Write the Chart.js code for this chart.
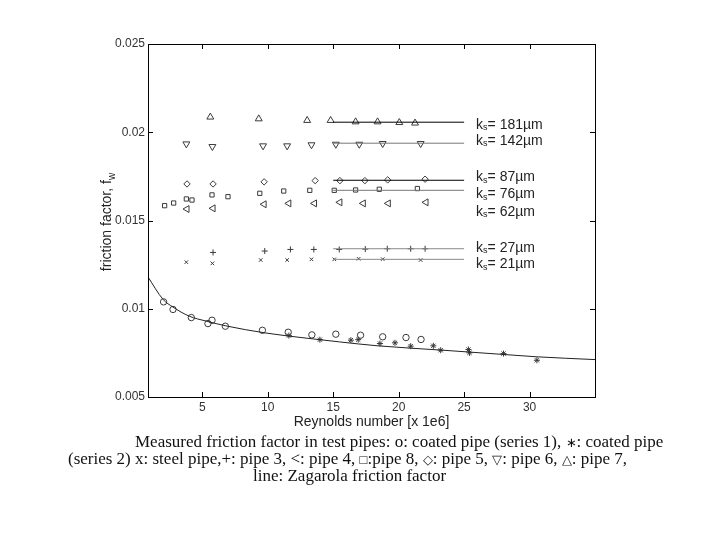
<!DOCTYPE html>
<html>
<head>
<meta charset="utf-8">
<script src="https://cdn.jsdelivr.net/npm/chart.js@4.4.1/dist/chart.umd.min.js"></script>
<style>
  body { margin: 0; background: #fff; }
  #wrap { position: relative; width: 720px; height: 540px; }
  #frictionChart { display: block; }
  .cap {
    position: absolute;
    white-space: nowrap;
    font-family: "Liberation Serif", "Times New Roman", serif;
    font-size: 17px;
    line-height: 17px;
    color: #111;
  }
  .sym { font-size: 13px; }
</style>
</head>
<body>
<div id="wrap">
  <canvas id="frictionChart" width="720" height="540"></canvas>
  <div class="cap" style="left:135px; top:433px">Measured friction factor in test pipes: o: coated pipe (series 1), <span class="sym">∗</span>: coated pipe</div>
  <div class="cap" style="left:68px; top:450px">(series 2) x: steel pipe,+: pipe 3, &lt;: pipe 4, <span class="sym">□</span>:pipe 8, <span class="sym">◇</span>: pipe 5, <span class="sym">▽</span>: pipe 6, <span class="sym">△</span>: pipe 7,</div>
  <div class="cap" style="left:253px; top:467px">line: Zagarola friction factor</div>
</div>
<script>
  // Axis ticks
  const xTicks = [5, 10, 15, 20, 25, 30];
  const yTicks = [0.005, 0.01, 0.015, 0.02, 0.025];
  const yTickLabels = ['0.005', '0.01', '0.015', '0.02', '0.025'];

  // Measured friction factor, Reynolds number in units of 1e6
  const pipe7X = [5.61, 9.31, 13.01, 14.80, 16.71, 18.39, 20.05, 21.25];
  const pipe7Y = [0.02086, 0.02076, 0.02067, 0.02067, 0.02059, 0.02059, 0.02055, 0.02052];

  const pipe6X = [3.78, 5.77, 9.64, 11.48, 13.34, 15.20, 16.99, 18.78, 21.68];
  const pipe6Y = [0.01934, 0.01919, 0.01923, 0.01923, 0.01929, 0.01932, 0.01932, 0.01936, 0.01936];

  const pipe5X = [3.83, 5.82, 9.72, 13.62, 15.51, 17.42, 19.16, 22.02];
  const pipe5Y = [0.01707, 0.01707, 0.01719, 0.01726, 0.01726, 0.01726, 0.0173, 0.01734];

  const pipe8X = [2.12, 2.81, 3.78, 4.21, 5.74, 6.96, 9.39, 11.22, 13.21, 15.08, 16.71, 18.52, 21.43];
  const pipe8Y = [0.01584, 0.01599, 0.01622, 0.01616, 0.01645, 0.01635, 0.01654, 0.01667, 0.01671, 0.01671, 0.01673, 0.01677, 0.01681];

  const pipe4X = [3.83, 5.82, 9.72, 11.61, 13.57, 15.51, 17.30, 19.21, 22.09];
  const pipe4Y = [0.01565, 0.01569, 0.01592, 0.01597, 0.01597, 0.01603, 0.01597, 0.01597, 0.01603];

  const pipe3X = [5.82, 9.77, 11.73, 13.52, 15.46, 17.45, 19.13, 20.92, 22.02];
  const pipe3Y = [0.01319, 0.01327, 0.01336, 0.01336, 0.01336, 0.01338, 0.0134, 0.0134, 0.0134];

  const steelX = [3.78, 5.77, 9.46, 11.48, 13.34, 15.08, 16.94, 18.78, 21.68];
  const steelY = [0.01264, 0.01257, 0.01276, 0.01276, 0.0128, 0.0128, 0.01283, 0.01281, 0.01276];

  const coated1X = [2.04, 2.76, 4.16, 5.43, 5.74, 6.76, 9.59, 11.56, 13.37, 15.20, 17.09, 18.78, 20.56, 21.71];
  const coated1Y = [0.01039, 0.00996, 0.0095, 0.00916, 0.00935, 0.00901, 0.00878, 0.00867, 0.00852, 0.00856, 0.0085, 0.00841, 0.00837, 0.00826];

  const coated2X = [11.61, 13.98, 16.35, 16.91, 18.57, 19.72, 20.92, 22.65, 23.21, 25.33, 25.41, 28.01, 30.56];
  const coated2Y = [0.00848, 0.00825, 0.00822, 0.00825, 0.00803, 0.00807, 0.00788, 0.0079, 0.00765, 0.00769, 0.0075, 0.00746, 0.00708];

  // Zagarola friction factor line
  const zagX = [0.85, 2, 2.75, 4, 5.3, 6.8, 9.8, 13, 15.5, 18.4, 23.4, 28, 30.5, 35];
  const zagY = [0.0118, 0.01053, 0.0101, 0.00958, 0.0093, 0.00903, 0.00863, 0.00833, 0.00812, 0.0079, 0.00765, 0.00741, 0.00728, 0.00712];

  // Fitted roughness lines
  const fitRange = [15, 25];
  const fitLevels = [0.02057, 0.01938, 0.01728, 0.01671, 0.0134, 0.0128];

  // ks labels on the right
  const ksLabels = ['181', '142', '87', '76', '62', '27', '21'];
  const ksLabelLevels = [0.02042, 0.01951, 0.01745, 0.0165, 0.0155, 0.01346, 0.01251];

  const pts = (xs, ys) => xs.map((v, i) => ({ x: v, y: ys[i] }));
  const flat = (level) => fitRange.map(v => ({ x: v, y: level }));

  const markerColor = '#3a3a3a';
  const marker = (xs, ys, style, radius, rotation) => ({
    data: pts(xs, ys),
    showLine: false,
    pointStyle: style,
    pointRadius: radius,
    pointRotation: rotation || 0,
    pointBorderColor: markerColor,
    pointBackgroundColor: 'rgba(0,0,0,0)',
    pointBorderWidth: 1
  });
  const fitLine = (level, color) => ({
    data: flat(level),
    showLine: true,
    borderColor: color,
    borderWidth: 1,
    pointRadius: 0
  });

  function drawParts(ctx, x, y, parts) {
    let cx = x;
    parts.forEach(([text, size, dy]) => {
      ctx.font = size + 'px "Liberation Sans", Arial, sans-serif';
      ctx.fillText(text, cx, y + dy);
      cx += ctx.measureText(text).width;
    });
    return cx - x;
  }

  const framePlugin = {
    id: 'frame',
    afterDraw(chart) {
      const { ctx, chartArea: a, scales: { x, y } } = chart;
      ctx.save();
      ctx.strokeStyle = '#000';
      ctx.lineWidth = 1;
      ctx.strokeRect(Math.round(a.left) + 0.5, Math.round(a.top) + 0.5,
        Math.round(a.right - a.left), Math.round(a.bottom - a.top));

      ctx.beginPath();
      xTicks.forEach(v => {
        const px = Math.round(x.getPixelForValue(v)) + 0.5;
        ctx.moveTo(px, a.bottom); ctx.lineTo(px, a.bottom - 5);
        ctx.moveTo(px, a.top); ctx.lineTo(px, a.top + 5);
      });
      yTicks.forEach(v => {
        const py = Math.round(y.getPixelForValue(v)) + 0.5;
        ctx.moveTo(a.left, py); ctx.lineTo(a.left + 5, py);
        ctx.moveTo(a.right, py); ctx.lineTo(a.right - 5, py);
      });
      ctx.stroke();

      // ks labels
      ctx.fillStyle = '#222';
      ctx.textBaseline = 'middle';
      ctx.textAlign = 'left';
      const lx = x.getPixelForValue(fitRange[1]) + 12;
      ksLabels.forEach((t, i) => {
        const py = y.getPixelForValue(ksLabelLevels[i]);
        drawParts(ctx, lx, py, [['k', 14, 0], ['s', 9, 3], ['= ' + t + 'µm', 14, 0]]);
      });

      // axis titles
      ctx.textBaseline = 'alphabetic';
      ctx.fillStyle = '#222';
      ctx.font = '14px "Liberation Sans", Arial, sans-serif';
      ctx.textAlign = 'center';
      ctx.fillText('Reynolds number [x 1e6]', (a.left + a.right) / 2, a.bottom + 29);

      ctx.translate(a.left - 42, 222);
      ctx.rotate(-Math.PI / 2);
      ctx.textAlign = 'left';
      ctx.font = '14px "Liberation Sans", Arial, sans-serif';
      const w1 = ctx.measureText('friction factor, f').width;
      ctx.font = '10px "Liberation Sans", Arial, sans-serif';
      const w2 = ctx.measureText('w').width;
      drawParts(ctx, -(w1 + w2) / 2, 5, [['friction factor, f', 14, 0], ['w', 10, 4]]);
      ctx.restore();
    }
  };

  const ctx = document.getElementById('frictionChart').getContext('2d');
  new Chart(ctx, {
    type: 'scatter',
    data: {
      datasets: [
        {
          data: pts(zagX, zagY),
          showLine: true,
          borderColor: '#222',
          borderWidth: 1,
          pointRadius: 0,
          cubicInterpolationMode: 'monotone'
        },
        fitLine(fitLevels[0], '#000'),
        fitLine(fitLevels[1], '#777'),
        fitLine(fitLevels[2], '#000'),
        fitLine(fitLevels[3], '#777'),
        fitLine(fitLevels[4], '#888'),
        fitLine(fitLevels[5], '#888'),
        marker(pipe7X, pipe7Y, 'triangle', 4, 0),
        marker(pipe6X, pipe6Y, 'triangle', 4, 180),
        marker(pipe5X, pipe5Y, 'rectRot', 3.2, 0),
        marker(pipe8X, pipe8Y, 'rect', 3, 0),
        marker(pipe4X, pipe4Y, 'triangle', 4, 270),
        marker(pipe3X, pipe3Y, 'cross', 3, 0),
        marker(steelX, steelY, 'crossRot', 2.5, 0),
        marker(coated1X, coated1Y, 'circle', 3.2, 0),
        marker(coated2X, coated2Y, 'star', 3, 0)
      ]
    },
    options: {
      responsive: false,
      animation: false,
      events: [],
      layout: { padding: { left: 0, top: 44, right: 125, bottom: 113 } },
      plugins: { legend: { display: false }, tooltip: { enabled: false } },
      scales: {
        x: {
          type: 'linear',
          min: 0.85,
          max: 35,
          afterBuildTicks: s => { s.ticks = xTicks.map(v => ({ value: v })); },
          afterFit: s => { s.height = 30; },
          grid: { display: false, drawTicks: false },
          border: { display: false },
          ticks: {
            padding: 3,
            maxRotation: 0,
            color: '#333',
            font: { family: '"Liberation Sans", Arial, sans-serif', size: 12 },
            callback: v => String(v)
          }
        },
        y: {
          type: 'linear',
          min: 0.005,
          max: 0.025,
          afterBuildTicks: s => { s.ticks = yTicks.map(v => ({ value: v })); },
          afterFit: s => { s.width = 148; },
          grid: { display: false, drawTicks: false },
          border: { display: false },
          ticks: {
            padding: 3,
            color: '#333',
            font: { family: '"Liberation Sans", Arial, sans-serif', size: 12 },
            callback: (v, i) => yTickLabels[i]
          }
        }
      }
    },
    plugins: [framePlugin]
  });
</script>
</body>
</html>
